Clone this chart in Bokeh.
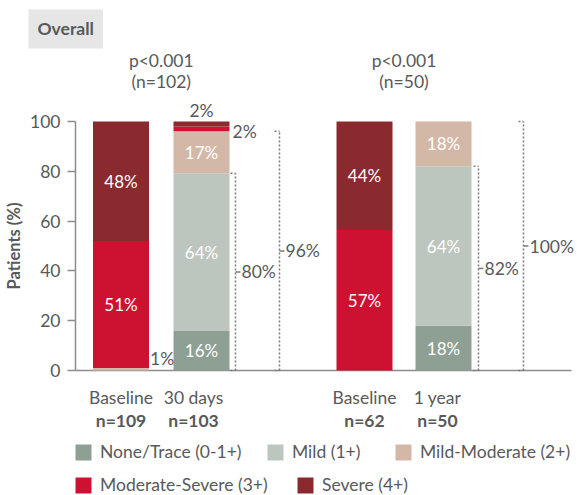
from bokeh.plotting import figure
from bokeh.models import (Range1d, LinearAxis, FixedTicker, Label, Legend,
                          LegendItem, ColumnDataSource)
from bokeh.core.properties import value
from bokeh.embed import file_html
from bokeh.resources import INLINE

# ---------------- data ----------------
timepoints = ["Baseline", "30 days", "Baseline", "1 year"]
n_labels = ["n=109", "n=103", "n=62", "n=50"]
severity = ["None/Trace (0-1+)", "Mild (1+)", "Mild-Moderate (2+)",
            "Moderate-Severe (3+)", "Severe (4+)"]
none_trace = [0, 16, 0, 18]
mild = [0, 64, 0, 64]
mild_moderate = [1, 17, 0, 18]
moderate_severe = [51, 2, 57, 0]
severe = [48, 2, 44, 0]
p_values = ["p<0.001", "p<0.001"]
paired_n = ["(n=102)", "(n=50)"]
bracket_labels = ["80%", "96%", "82%", "100%"]
y_ticks = [0, 20, 40, 60, 80, 100]

# ---------------- style ----------------
FONT = "Lato"
FS = "17.5px"
GREY = "#58595b"
colors = ["#8e9f93", "#bcc6be", "#d4b8a7", "#cc1230", "#8b2a2e"]
bar_x = [120.5, 201, 364, 443]
bar_w = 56
label_dx = [0, -8, 0, -6]

series = [none_trace, mild, mild_moderate, moderate_severe, severe]
keys = ["none", "mild", "mildmod", "modsev", "severe"]
totals = [sum(s[i] for s in series) for i in range(4)]
norm = {k: [s[i] * 100.0 / totals[i] for i in range(4)] for k, s in zip(keys, series)}
src = ColumnDataSource(dict(x=bar_x, **norm))

p = figure(width=577, height=495, output_backend="svg", toolbar_location=None,
           x_range=Range1d(0, 577), y_range=Range1d(-50.2, 148.6),
           x_axis_location=None, y_axis_location=None, title=None,
           min_border_left=0, min_border_right=0, min_border_top=0,
           min_border_bottom=0, outline_line_color=None,
           background_fill_color="white", border_fill_color="white")
p.grid.visible = False

yax = LinearAxis(ticker=FixedTicker(ticks=y_ticks), bounds=(0, 100),
                 axis_label="Patients (%)", fixed_location=75)
yax.axis_line_color = "#8c8c8c"
yax.axis_line_width = 1.5
yax.major_tick_line_color = "#8c8c8c"
yax.major_tick_line_width = 1.5
yax.major_tick_out = 8
yax.major_tick_in = 0
yax.minor_tick_line_color = None
yax.major_label_standoff = 7
yax.major_label_text_font = FONT
yax.major_label_text_font_size = FS
yax.major_label_text_color = GREY
yax.axis_label_text_font = FONT
yax.axis_label_text_font_size = "16.5px"
yax.axis_label_text_font_style = "bold"
yax.axis_label_text_color = GREY
yax.axis_label_standoff = 3
p.add_layout(yax, "left")

# baseline
p.segment(x0=[75], y0=[0], x1=[571], y1=[0], line_color="#8c8c8c", line_width=1.5)

rends = p.vbar_stack(keys, x="x", width=bar_w, fill_color=colors, line_color=None,
                     source=src)

# segment labels
in_x, in_y, in_t = [], [], []
out_x, out_y, out_t, out_align = [], [], [], []
for i in range(4):
    base = 0.0
    for k, s in zip(keys, series):
        h = norm[k][i]
        v = s[i]
        if v >= 5:
            in_x.append(bar_x[i]); in_y.append(base + h / 2); in_t.append(f"{v}%")
        elif v > 0:
            if k == "severe":
                out_x.append(bar_x[i]); out_y.append(104.5); out_align.append("center")
            elif k == "modsev":
                out_x.append(bar_x[i] + bar_w / 2 + 3); out_y.append(base + h / 2 - 1)
                out_align.append("left")
            else:
                out_x.append(bar_x[i] + bar_w / 2 + 1); out_y.append(base + 5)
                out_align.append("left")
            out_t.append(f"{v}%")
        base += h

p.text(x=in_x, y=in_y, text=in_t, text_font=value(FONT), text_font_size="17px",
       text_color="#ffffff", text_align="center", text_baseline="middle")
p.text(x=out_x, y=out_y, text=out_t, text_align=out_align, text_font=value(FONT),
       text_font_size=FS, text_color=GREY, text_baseline="middle")

# brackets (cumulative none+mild, none+mild+mildmod)
cum1 = [norm["none"][i] + norm["mild"][i] for i in (1, 3)]
cum2 = [norm["none"][i] + norm["mild"][i] + norm["mildmod"][i] for i in (1, 3)]
b_tops = [cum1[0], cum2[0], cum1[1], cum2[1]]
b_x = [bar_x[1] + 34, bar_x[1] + 78, bar_x[3] + 35, bar_x[3] + 80]
for bx, top, lab in zip(b_x, b_tops, bracket_labels):
    p.segment(x0=[bx, bx - 5, bx - 5], y0=[0, top, 0], x1=[bx, bx, bx], y1=[top, top, 0],
              line_color="#7a7a7a", line_width=1.5, line_dash="2 2")
    p.segment(x0=[bx], y0=[top / 2], x1=[bx + 5], y1=[top / 2],
              line_color="#7a7a7a", line_width=1.5)
    p.text(x=[bx + 6], y=[top / 2], text=[lab], text_font=value(FONT),
           text_font_size=FS, text_color=GREY, text_align="left",
           text_baseline="middle")

# p-values
gx = [(bar_x[0] + bar_x[1]) / 2, (bar_x[2] + bar_x[3]) / 2]
p.text(x=gx, y=[124.6, 124.6], text=p_values, text_font=value(FONT),
       text_font_size=FS, text_color=GREY, text_align="center", text_baseline="middle")
p.text(x=gx, y=[115.9, 115.9], text=paired_n, text_font=value(FONT),
       text_font_size=FS, text_color=GREY, text_align="center", text_baseline="middle")

# category labels
lx = [bx + d for bx, d in zip(bar_x, label_dx)]
p.text(x=lx, y=[-10.8] * 4, text=timepoints, text_font=value(FONT),
       text_font_size=FS, text_color=GREY, text_align="center", text_baseline="middle")
p.text(x=lx, y=[-20.1] * 4, text=n_labels, text_font=value(FONT), text_font_style="bold",
       text_font_size=FS, text_color=GREY, text_align="center", text_baseline="middle")

# title box
p.add_layout(Label(x=28, y=145.0, x_units="data", y_units="data", text="Overall",
                   text_font=FONT, text_font_size="17.5px", text_font_style="bold",
                   text_color=GREY, text_align="left", text_baseline="top",
                   background_fill_color="#e6e6e6", padding=9))

# legend (one entry per slot to mimic flowing layout)
leg_pos = [(73, 33), (265, 33), (393, 33), (73, 0), (295, 0)]
for r, name, loc in zip(rends, severity, leg_pos):
    leg = Legend(items=[LegendItem(label=name, renderers=[r])], location=loc,
                 orientation="horizontal", glyph_width=20, glyph_height=20,
                 label_standoff=7, label_height=20, padding=0, margin=0,
                 border_line_color=None, background_fill_alpha=0,
                 label_text_font=FONT, label_text_font_size=FS,
                 label_text_color=GREY)
    p.add_layout(leg)

open("out.html", "w").write(file_html(p, INLINE))
